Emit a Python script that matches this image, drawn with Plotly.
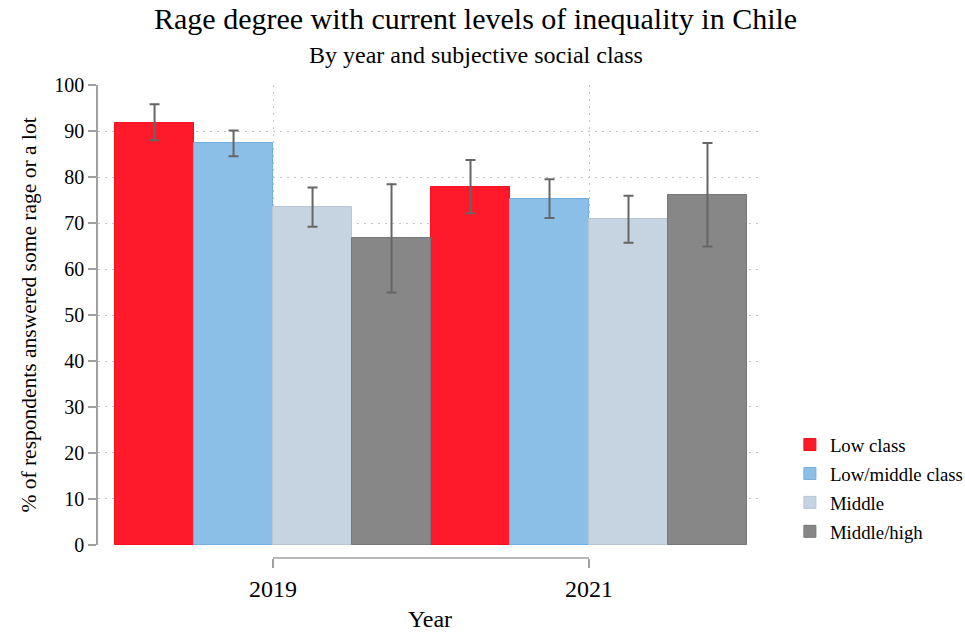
import plotly.graph_objects as go

years = [2019, 2021]
classes = ["Low class", "Low/middle class", "Middle", "Middle/high"]
values = {
    "Low class": [91.8, 77.8],
    "Low/middle class": [87.3, 75.2],
    "Middle": [73.4, 70.8],
    "Middle/high": [66.7, 76.0],
}
ci_upper = {
    "Low class": [95.8, 83.7],
    "Low/middle class": [90.1, 79.5],
    "Middle": [77.7, 75.9],
    "Middle/high": [78.4, 87.4],
}
ci_lower = {
    "Low class": [88.0, 72.1],
    "Low/middle class": [84.5, 71.1],
    "Middle": [69.2, 65.7],
    "Middle/high": [54.9, 64.9],
}
y_ticks = list(range(0, 101, 10))

fills = {
    "Low class": "#FF1A2B",
    "Low/middle class": "#8BBFE7",
    "Middle": "#C6D3E0",
    "Middle/high": "#878787",
}
borders = {
    "Low class": "#F0101E",
    "Low/middle class": "#74AEDD",
    "Middle": "#B8C6D4",
    "Middle/high": "#777777",
}

FONT = "Liberation Serif"
GRID_DASH = "2px,5px"

fig = go.Figure()
for i, c in enumerate(classes):
    v = values[c]
    up = [u - x for u, x in zip(ci_upper[c], v)]
    dn = [x - l for l, x in zip(ci_lower[c], v)]
    fig.add_trace(go.Bar(
        x=years, y=v, name=c,
        marker=dict(color=fills[c], line=dict(color=borders[c], width=1)),
        error_y=dict(type="data", symmetric=False, array=up, arrayminus=dn,
                     color="#666666", thickness=2, width=5),
        legendgroup=c,
    ))

fig.update_layout(
    width=965, height=632,
    barmode="group", bargap=0, bargroupgap=0,
    plot_bgcolor="white", paper_bgcolor="white",
    font=dict(family=FONT, color="black", size=19),
    margin=dict(l=98, r=203, t=85, b=74, autoexpand=False),
    showlegend=True,
    legend=dict(x=1.042, y=0.2795, xanchor="left", yanchor="top",
                font=dict(family=FONT, size=18.8), tracegroupgap=1.5,
                bgcolor="rgba(0,0,0,0)"),
    xaxis=dict(
        range=[2017.892, 2022.095], tickvals=years, ticktext=[str(y) for y in years],
        anchor="free", position=0, showline=False, zeroline=False, automargin=False,
        ticks="outside", ticklen=9, tickcolor="#a0a0a0", tickwidth=1.5,
        showgrid=True, gridcolor="#c4c4c4", griddash=GRID_DASH, gridwidth=1.2,
        tickfont=dict(size=24), ticklabelstandoff=0,
        title=dict(text="Year", font=dict(size=24), standoff=9),
    ),
    yaxis=dict(
        range=[0, 100], domain=[0.0275, 1], tickvals=y_ticks, automargin=False,
        showline=True, linecolor="#a0a0a0", linewidth=1.5,
        ticks="outside", ticklen=8, tickcolor="#a0a0a0", tickwidth=1.5,
        showgrid=True, gridcolor="#c4c4c4", griddash=GRID_DASH, gridwidth=1.2,
        zeroline=False, tickfont=dict(size=20),
        title=dict(text="% of respondents answered some rage or a lot",
                   font=dict(size=21.5), standoff=12),
    ),
    shapes=[dict(type="line", xref="x", yref="paper", x0=years[0], x1=years[-1],
                 y0=0, y1=0, line=dict(color="#a0a0a0", width=1.5))],
    annotations=[
        dict(text="Rage degree with current levels of inequality in Chile",
             xref="paper", yref="paper", x=0.569, y=1 + 66 / 473, showarrow=False,
             xanchor="center", yanchor="middle", font=dict(size=30)),
        dict(text="By year and subjective social class",
             xref="paper", yref="paper", x=0.569, y=1 + 30 / 473, showarrow=False,
             xanchor="center", yanchor="middle", font=dict(size=24)),
    ],
)

fig.write_html("out.html", config={"displayModeBar": False},
               post_script="document.body.style.margin='0';")
